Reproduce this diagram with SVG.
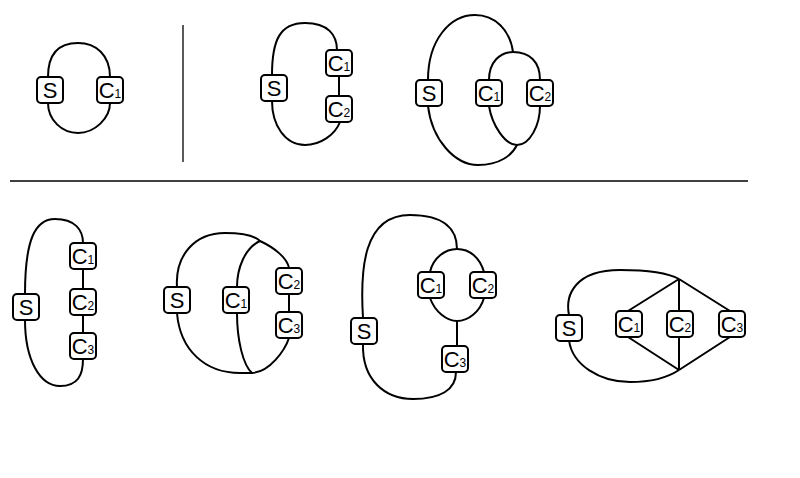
<svg xmlns="http://www.w3.org/2000/svg" width="800" height="478" viewBox="0 0 800 478">
<style>
.bx{fill:#fff;stroke:#000;stroke-width:2}
.t{font-family:"Liberation Sans",Arial,sans-serif;font-size:22px;text-anchor:middle;fill:#000}
.s{font-size:12px}
.e{fill:none;stroke:#000;stroke-width:2}
.sep{fill:none;stroke:#000;stroke-width:1.3}
</style>
<rect width="800" height="478" fill="#fff"/>
<g id="separators">
<line class="sep" x1="183" y1="25" x2="183" y2="162"/>
<line class="sep" x1="10" y1="181" x2="748" y2="181"/>
</g>
<g id="connectors">
<!-- D1 -->
<path class="e" d="M48 77 C48 52 60 43 78 43 C96 43 110 55 110 77"/>
<path class="e" d="M48 103 C48 120 62 133 78 133 C95 133 110 118 110 103"/>
<!-- D2 -->
<path class="e" d="M272 75 C272 40 280 23 305 23 C328 23 337 35 337 50"/>
<path class="e" d="M339 76 L339 96"/>
<path class="e" d="M272 101 C272 125 285 145 305 145 C320 145 335 135 340 122"/>
<!-- D3 -->
<path class="e" d="M428 80 C428 40 450 15 475 15 C495 15 510 30 513 52"/>
<path class="e" d="M489 80 C489 62 500 52 513 52 C530 52 540 62 540 80"/>
<path class="e" d="M489 106 C492 125 505 145 517 145 C530 145 540 125 540 106"/>
<path class="e" d="M428 106 C432 140 455 165 478 165 C500 165 512 155 517 145"/>
<!-- D4 -->
<path class="e" d="M25 294 C25 240 35 219 55 219 C75 219 83 230 83 243"/>
<path class="e" d="M83 269 L83 289"/>
<path class="e" d="M83 315 L83 333"/>
<path class="e" d="M25 320 C25 360 40 386 60 386 C78 386 83 375 83 359"/>
<!-- D5 -->
<path class="e" d="M177 287 C175 255 195 233 225 233 C245 233 255 236 260 241 C275 248 287 258 289 268"/>
<path class="e" d="M260 241 C245 248 237 268 237 287"/>
<path class="e" d="M237 313 C237 340 243 365 252 373"/>
<path class="e" d="M177 313 C180 350 205 373 240 373 L252 373 C270 372 285 350 289 338"/>
<path class="e" d="M289 294 L289 312"/>
<!-- D6 -->
<path class="e" d="M363 318 C360 270 363 215 410 215 C445 215 457 230 457 249"/>
<path class="e" d="M430 272 C433 258 445 249 457 249 C470 249 480 258 484 272"/>
<path class="e" d="M430 298 C435 312 447 321 457 321 C468 321 480 312 484 298"/>
<path class="e" d="M457 321 L457 346"/>
<path class="e" d="M363 344 C362 380 385 399 413 399 C440 399 456 390 456 372"/>
<!-- D7 -->
<path class="e" d="M569 315 C565 295 575 270 620 270 C650 270 670 274 679 279"/>
<path class="e" d="M569 340 C572 365 600 382 630 382 C655 382 670 376 679 370"/>
<path class="e" d="M679 279 L628 311 M679 279 L679 311 M679 279 L730 311 M628 337 L679 370 M679 337 L679 370 M730 337 L679 370"/>
</g>
<!-- D1 nodes -->
<g id="d1-S"><rect class="bx" x="37" y="77" width="26" height="26" rx="4"/><text class="t" x="50" y="98">S</text></g>
<g id="d1-C1"><rect class="bx" x="97" y="77" width="26" height="26" rx="4"/><text class="t" x="110" y="98">C<tspan class="s">1</tspan></text></g>
<!-- D2 nodes -->
<g id="d2-S"><rect class="bx" x="261" y="75" width="26" height="26" rx="4"/><text class="t" x="274" y="96">S</text></g>
<g id="d2-C1"><rect class="bx" x="326" y="50" width="26" height="26" rx="4"/><text class="t" x="339" y="71">C<tspan class="s">1</tspan></text></g>
<g id="d2-C2"><rect class="bx" x="326" y="96" width="26" height="26" rx="4"/><text class="t" x="339" y="117">C<tspan class="s">2</tspan></text></g>
<!-- D3 nodes -->
<g id="d3-S"><rect class="bx" x="416" y="80" width="26" height="26" rx="4"/><text class="t" x="429" y="101">S</text></g>
<g id="d3-C1"><rect class="bx" x="476" y="80" width="26" height="26" rx="4"/><text class="t" x="489" y="101">C<tspan class="s">1</tspan></text></g>
<g id="d3-C2"><rect class="bx" x="527" y="80" width="26" height="26" rx="4"/><text class="t" x="540" y="101">C<tspan class="s">2</tspan></text></g>
<!-- D4 nodes -->
<g id="d4-S"><rect class="bx" x="13" y="294" width="26" height="26" rx="4"/><text class="t" x="26" y="315">S</text></g>
<g id="d4-C1"><rect class="bx" x="70" y="243" width="26" height="26" rx="4"/><text class="t" x="83" y="264">C<tspan class="s">1</tspan></text></g>
<g id="d4-C2"><rect class="bx" x="70" y="289" width="26" height="26" rx="4"/><text class="t" x="83" y="310">C<tspan class="s">2</tspan></text></g>
<g id="d4-C3"><rect class="bx" x="70" y="333" width="26" height="26" rx="4"/><text class="t" x="83" y="354">C<tspan class="s">3</tspan></text></g>
<!-- D5 nodes -->
<g id="d5-S"><rect class="bx" x="164" y="287" width="26" height="26" rx="4"/><text class="t" x="177" y="308">S</text></g>
<g id="d5-C1"><rect class="bx" x="223" y="287" width="26" height="26" rx="4"/><text class="t" x="236" y="308">C<tspan class="s">1</tspan></text></g>
<g id="d5-C2"><rect class="bx" x="276" y="268" width="26" height="26" rx="4"/><text class="t" x="289" y="289">C<tspan class="s">2</tspan></text></g>
<g id="d5-C3"><rect class="bx" x="276" y="312" width="26" height="26" rx="4"/><text class="t" x="289" y="333">C<tspan class="s">3</tspan></text></g>
<!-- D6 nodes -->
<g id="d6-S"><rect class="bx" x="351" y="318" width="26" height="26" rx="4"/><text class="t" x="364" y="339">S</text></g>
<g id="d6-C1"><rect class="bx" x="418" y="272" width="26" height="26" rx="4"/><text class="t" x="431" y="293">C<tspan class="s">1</tspan></text></g>
<g id="d6-C2"><rect class="bx" x="470" y="272" width="26" height="26" rx="4"/><text class="t" x="483" y="293">C<tspan class="s">2</tspan></text></g>
<g id="d6-C3"><rect class="bx" x="442" y="346" width="26" height="26" rx="4"/><text class="t" x="455" y="367">C<tspan class="s">3</tspan></text></g>
<!-- D7 nodes -->
<g id="d7-S"><rect class="bx" x="556" y="315" width="26" height="26" rx="4"/><text class="t" x="569" y="336">S</text></g>
<g id="d7-C1"><rect class="bx" x="616" y="311" width="26" height="26" rx="4"/><text class="t" x="629" y="332">C<tspan class="s">1</tspan></text></g>
<g id="d7-C2"><rect class="bx" x="667" y="311" width="26" height="26" rx="4"/><text class="t" x="680" y="332">C<tspan class="s">2</tspan></text></g>
<g id="d7-C3"><rect class="bx" x="719" y="311" width="26" height="26" rx="4"/><text class="t" x="732" y="332">C<tspan class="s">3</tspan></text></g>
</svg>
